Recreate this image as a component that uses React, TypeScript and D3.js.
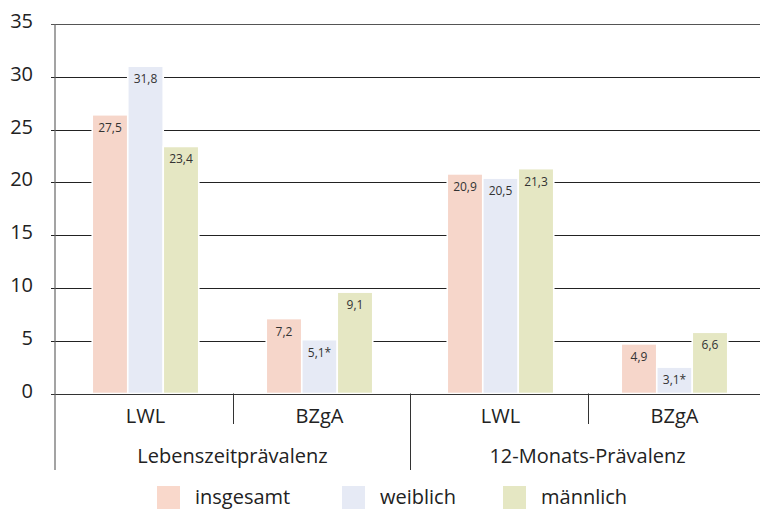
import React from "react";
import * as d3 from "d3";

const categories = ["LWL", "BZgA", "LWL", "BZgA"];
const groups = ["Lebenszeitprävalenz", "12-Monats-Prävalenz"];
const series = ["insgesamt", "weiblich", "männlich"];
const colors = ["#F6D6CA", "#E6EAF5", "#E5E7C3"];
const legendColors = ["#F9D8CB", "#E6EAF5", "#E5E7C3"];

// bar heights as drawn in the picture
const insgesamt = [26.4, 7.1, 20.8, 4.7];
const weiblich = [31.0, 5.1, 20.4, 2.5];
const maennlich = [23.4, 9.6, 21.3, 5.8];
// printed value labels
const insgesamtLabels = ["27,5", "7,2", "20,9", "4,9"];
const weiblichLabels = ["31,8", "5,1*", "20,5", "3,1*"];
const maennlichLabels = ["23,4", "9,1", "21,3", "6,6"];

const yTicks = [0, 5, 10, 15, 20, 25, 30, 35];

const values = [insgesamt, weiblich, maennlich];
const labels = [insgesamtLabels, weiblichLabels, maennlichLabels];

const W = 760;
const H = 509;
const FONT = "'Open Sans', 'Noto Sans', sans-serif";

export default function App() {
  const axisX = 55;
  const y = d3.scaleLinear().domain([0, 35]).range([393.5, 24]);
  const xg = d3
    .scaleBand<number>()
    .domain(groups.map((_, i) => i))
    .range([axisX, axisX + 2 * 355]);
  const catOffset = d3.scalePoint<number>().domain([0, 1]).range([-87, 87]);
  const x1 = d3
    .scaleBand<number>()
    .domain(series.map((_, i) => i))
    .range([-53.25, 53.25]);

  const gw = xg.bandwidth();
  const base = y(0);
  const catCenter = (ci: number) => {
    const gi = Math.floor(ci / 2);
    return (xg(gi) as number) + gw / 2 + (catOffset(ci % 2) as number);
  };

  return (
    <svg
      width={W}
      height={H}
      style={{ position: "absolute", left: 0, top: 0, background: "#fff" }}
      fontFamily={FONT}
    >
      {/* gridlines & ticks */}
      {yTicks.map((t) => (
        <g key={t}>
          <line
            x1={51}
            x2={W}
            y1={Math.round(y(t)) + 0.5}
            y2={Math.round(y(t)) + 0.5}
            stroke={t === 0 || t === 35 ? "#555" : "#222"}
            strokeWidth={1.2}
          />
          <text
            x={33}
            y={y(t) + 4}
            textAnchor="end"
            fontSize={20}
            fill="#222"
          >
            {t}
          </text>
        </g>
      ))}

      {/* bars */}
      {categories.map((c, ci) => {
        const cx = catCenter(ci);
        return (
          <g key={ci}>
            {series.map((s, si) => {
              const v = values[si][ci];
              const bx = cx + (x1(si) as number);
              const top = y(v);
              return (
                <g key={si}>
                  <rect
                    x={bx}
                    y={top}
                    width={x1.bandwidth()}
                    height={base - top}
                    fill={colors[si]}
                    stroke="#fff"
                    strokeWidth={1.6}
                  />
                  <text
                    x={bx + x1.bandwidth() / 2}
                    y={top + 17}
                    textAnchor="middle"
                    fontSize={12}
                    fill="#333"
                  >
                    {labels[si][ci]}
                  </text>
                </g>
              );
            })}
          </g>
        );
      })}

      {/* baseline */}
      <line x1={51} x2={W} y1={Math.round(base) + 0.5} y2={Math.round(base) + 0.5} stroke="#333" strokeWidth={1.2} />

      {/* y axis */}
      <line x1={axisX} x2={axisX} y1={24} y2={470} stroke="#666" strokeWidth={1.2} />

      {/* category labels */}
      {categories.map((c, ci) => (
        <text
          key={ci}
          x={catCenter(ci)}
          y={423}
          textAnchor="middle"
          fontSize={20}
          fill="#222"
        >
          {c}
        </text>
      ))}

      {/* separators within groups */}
      {groups.map((g, gi) => {
        const sx = Math.round((xg(gi) as number) + gw / 2) + 0.5;
        return (
          <line key={g} x1={sx} x2={sx} y1={base} y2={424} stroke="#333" strokeWidth={1} />
        );
      })}
      {/* separator between groups */}
      <line
        x1={Math.round(xg(1) as number) + 0.5}
        x2={Math.round(xg(1) as number) + 0.5}
        y1={base}
        y2={470}
        stroke="#333"
        strokeWidth={1}
      />

      {/* group labels */}
      {groups.map((g, gi) => (
        <text
          key={g}
          x={(xg(gi) as number) + gw / 2}
          y={463}
          textAnchor="middle"
          fontSize={20}
          fill="#222"
        >
          {g}
        </text>
      ))}

      {/* legend */}
      {series.map((s, si) => {
        const lx = [157, 342, 503][si];
        return (
          <g key={s}>
            <rect x={lx} y={486} width={23} height={23} fill={legendColors[si]} />
            <text x={lx + 38} y={504} fontSize={20} fill="#222">
              {s}
            </text>
          </g>
        );
      })}
    </svg>
  );
}
